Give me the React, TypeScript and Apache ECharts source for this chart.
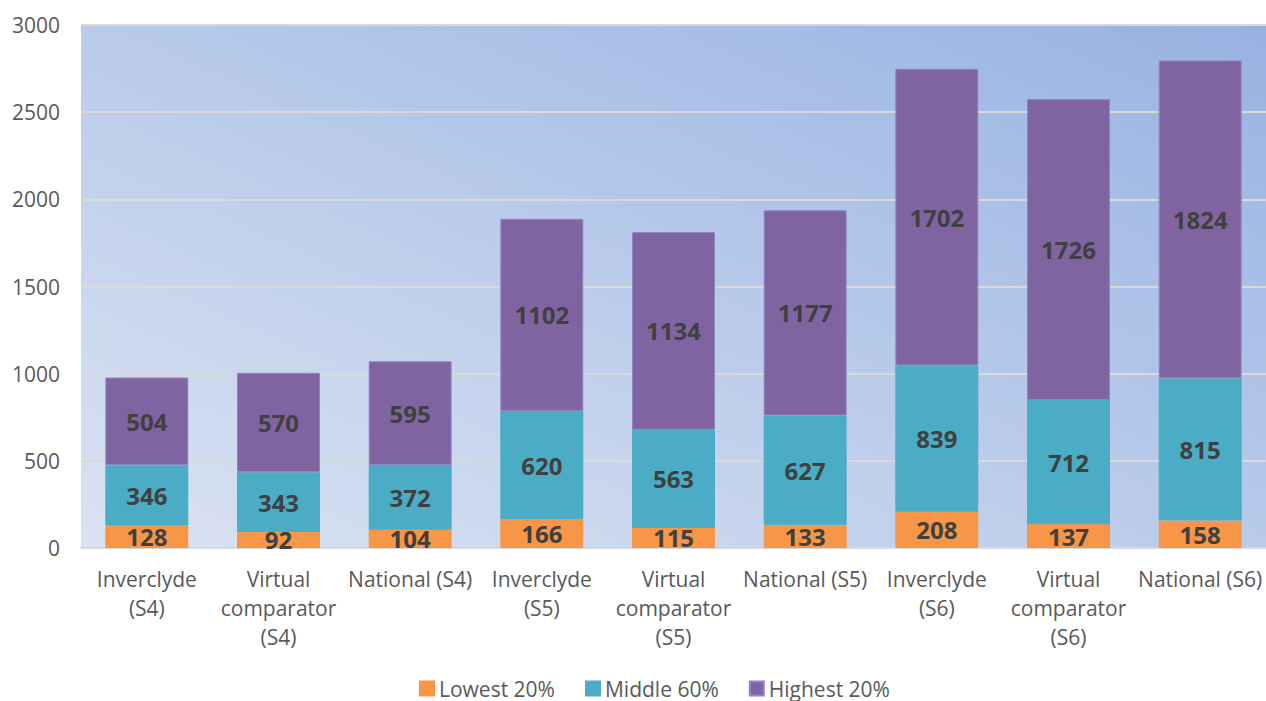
import React, { useEffect, useRef } from "react";
import * as echarts from "echarts";

const categories = [
  "Inverclyde\n(S4)",
  "Virtual\ncomparator\n(S4)",
  "National (S4)",
  "Inverclyde\n(S5)",
  "Virtual\ncomparator\n(S5)",
  "National (S5)",
  "Inverclyde\n(S6)",
  "Virtual\ncomparator\n(S6)",
  "National (S6)",
];
const lowest20 = [128, 92, 104, 166, 115, 133, 208, 137, 158];
const middle60 = [346, 343, 372, 620, 563, 627, 839, 712, 815];
const highest20 = [504, 570, 595, 1102, 1134, 1177, 1702, 1726, 1824];
const seriesNames = ["Lowest 20%", "Middle 60%", "Highest 20%"];
const seriesColors = ["#f79646", "#4bacc6", "#8064a2"];

const FONT = "'Open Sans', 'Noto Sans', sans-serif";

export default function App() {
  const ref = useRef<HTMLDivElement>(null);
  useEffect(() => {
    if (!ref.current) return;
    const chart = echarts.init(ref.current, null, { renderer: "svg" });
    const data = [lowest20, middle60, highest20];
    chart.setOption({
      animation: false,
      textStyle: { fontFamily: FONT },
      grid: {
        left: 81,
        right: 0,
        top: 25,
        bottom: 153,
        show: true,
        borderWidth: 0,
        backgroundColor: new echarts.graphic.LinearGradient(0, 1, 1, 0, [
          { offset: 0, color: "#dbe3f2" },
          { offset: 1, color: "#97b2e2" },
        ]),
      },
      legend: {
        bottom: -3,
        left: 414,
        itemWidth: 14,
        itemHeight: 14,
        itemGap: 30,
        icon: "rect",
        textStyle: { fontSize: 21, color: "#595959", fontFamily: FONT },
        data: seriesNames,
      },
      xAxis: {
        type: "category",
        data: categories,
        axisLine: { show: true, lineStyle: { color: "#d9d9d9", width: 2 } },
        axisTick: { show: false },
        axisLabel: {
          fontSize: 21,
          color: "#595959",
          lineHeight: 29,
          margin: 16,
          interval: 0,
          fontFamily: FONT,
        },
      },
      yAxis: {
        type: "value",
        min: 0,
        max: 3000,
        interval: 500,
        axisLine: { show: false },
        axisTick: { show: false },
        axisLabel: {
          fontSize: 21,
          color: "#595959",
          margin: 21,
          fontFamily: FONT,
          formatter: (v: number) => String(v),
        },
        splitLine: { lineStyle: { color: "#d9d9d9", width: 2 } },
      },
      series: seriesNames.map((name, i) => ({
        name,
        type: "bar",
        stack: "total",
        barWidth: "63%",
        data: data[i],
        itemStyle: {
          color: seriesColors[i],
          borderColor: i === 2 ? "#8f84c4" : seriesColors[i],
          borderWidth: 1,
        },
        label: {
          show: true,
          position: "inside",
          fontSize: 24,
          fontWeight: "bold",
          color: "#404040",
          fontFamily: FONT,
        },
      })),
    });
    return () => chart.dispose();
  }, []);
  return (
    <div
      ref={ref}
      style={{ position: "fixed", left: 0, top: 0, width: 1266, height: 701, background: "#fff" }}
    />
  );
}
